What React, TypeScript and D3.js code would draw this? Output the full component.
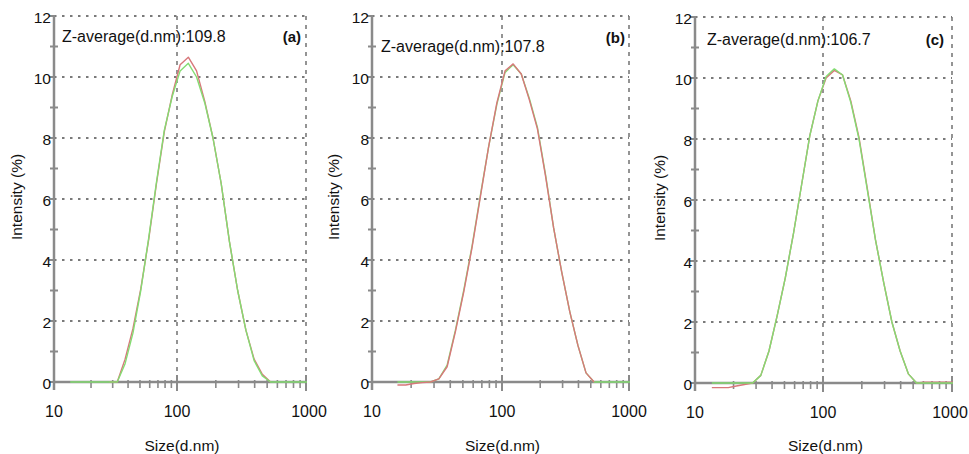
import React from "react";
import * as d3 from "d3";

// size bins (d.nm) of the intensity distribution
const sizes = [
  13.54, 15.69, 18.17, 21.04, 24.36, 28.21, 32.67, 37.84, 43.82, 50.75, 58.77,
  68.06, 78.82, 91.28, 105.7, 122.4, 141.8, 164.2, 190.1, 220.2, 255.0, 295.3,
  342.0, 396.1, 458.7, 531.2, 615.1, 712.4, 825.0, 955.4, 1106,
];

// intensity (%) per bin, null = not drawn
const redA = [
  null, null, null, null, null, 0, 0, 0.75, 1.75, 3.05, 4.65, 6.5, 8.2, 9.4,
  10.4, 10.65, 10.2, 9.2, 8.0, 6.5, 4.6, 3.0, 1.7, 0.75, 0.25, 0, null, null,
  null, null, null,
];
const greenA = [
  0, 0, 0, 0, 0, 0, 0, 0.6, 1.6, 3.0, 4.7, 6.55, 8.25, 9.35, 10.2, 10.45, 10.0,
  9.15, 8.0, 6.5, 4.6, 3.0, 1.7, 0.7, 0.2, 0, 0, 0, 0, 0, 0,
];
const redB = [
  null, -0.1, -0.1, -0.05, -0.02, 0, 0.1, 0.5, 1.65, 2.95, 4.4, 6.05, 7.7,
  9.15, 10.2, 10.43, 10.1, 9.25, 8.3, 6.75, 5.05, 3.6, 2.3, 1.2, 0.3, 0, null,
  null, null, null, null,
];
const greenB = [
  null, 0, 0, 0, 0, 0, 0.1, 0.55, 1.7, 3.0, 4.45, 6.1, 7.7, 9.1, 10.15, 10.4,
  10.1, 9.3, 8.35, 6.8, 5.05, 3.6, 2.3, 1.2, 0.3, 0, 0, 0, 0, 0, 0,
];
const redC = [
  -0.15, -0.15, -0.15, -0.1, -0.05, 0, 0.25, 1.05, 2.2, 3.45, 4.9, 6.5, 8.1,
  9.25, 10.0, 10.25, 10.1, 9.25, 8.05, 6.4, 4.7, 3.3, 2.0, 1.05, 0.3, 0, 0.03,
  0.03, 0.03, 0.03, 0.03,
];
const greenC = [
  0, 0, 0, 0, 0, 0, 0.25, 1.05, 2.2, 3.45, 4.9, 6.5, 8.1, 9.25, 10.05, 10.3,
  10.1, 9.2, 8.0, 6.35, 4.7, 3.3, 2.0, 1.05, 0.3, 0, 0, 0, 0, 0, 0,
];

const panelLabels = ["(a)", "(b)", "(c)"];
const zAverages = ["109.8", "107.8", "106.7"];
const yTicks = [0, 2, 4, 6, 8, 10, 12];
const yMinor = [1, 3, 5, 7, 9, 11];
const xTicks = [10, 100, 1000];
const xMinor = [20, 30, 40, 50, 60, 70, 80, 90, 200, 300, 400, 500, 600, 700, 800, 900];

const FONT = "'Liberation Sans', Arial, Helvetica, sans-serif";
const AXIS = "#8a8a8a";
const GRID = "#7a7a7a";
const RED = "#d8777a";
const GREEN = "#84dc72";

type Layout = {
  left: number;
  mid: number;
  right: number;
  top: number;
  bottom: number;
  zx: number;
  zy: number;
  lx: number;
  ly: number;
  titleX: number;
  lastShift: number;
  red: (number | null)[];
  green: (number | null)[];
  greenOnTop: boolean;
};

const layouts: Layout[] = [
  { left: 54, mid: 177, right: 306, top: 16, bottom: 382, zx: 62, zy: 42, lx: 301, ly: 42, titleX: 22, lastShift: 3, red: redA, green: greenA, greenOnTop: true },
  { left: 372, mid: 502, right: 629, top: 16, bottom: 382, zx: 381, zy: 52, lx: 625, ly: 43, titleX: 339, lastShift: 0, red: redB, green: greenB, greenOnTop: false },
  { left: 695, mid: 823, right: 952, top: 17, bottom: 383, zx: 707, zy: 45, lx: 944, ly: 45, titleX: 665, lastShift: -2, red: redC, green: greenC, greenOnTop: true },
];

const Panel = ({ p, i }: { p: Layout; i: number }) => {
  const x = d3.scaleLog().domain([10, 100, 1000]).range([p.left, p.mid, p.right]);
  const y = d3.scaleLinear().domain([0, 12]).range([p.bottom, p.top]);

  const makePath = (vals: (number | null)[]) => {
    const gen = d3
      .line<number | null>()
      .defined((v) => v !== null)
      .x((_, k) => x(sizes[k]))
      .y((v) => y(v as number));
    return gen(vals) || "";
  };

  const clipId = `clip${i}`;
  const series = p.greenOnTop
    ? [
        { vals: p.red, color: RED },
        { vals: p.green, color: GREEN },
      ]
    : [
        { vals: p.green, color: GREEN },
        { vals: p.red, color: RED },
      ];

  const cy = (p.top + p.bottom) / 2;

  return (
    <g>
      <defs>
        <clipPath id={clipId}>
          <rect x={p.left} y={p.top - 5} width={p.right - p.left + 1} height={p.bottom - p.top + 12} />
        </clipPath>
      </defs>

      {/* horizontal grid */}
      {yTicks
        .filter((t) => t > 0)
        .map((t) => (
          <line
            key={"hg" + t}
            x1={p.left}
            x2={p.right}
            y1={y(t)}
            y2={y(t)}
            stroke={GRID}
            strokeWidth={1.8}
            strokeDasharray="2.5,5.5"
          />
        ))}
      {/* vertical grid */}
      {[100, 1000].map((t) => (
        <line
          key={"vg" + t}
          x1={x(t)}
          x2={x(t)}
          y1={p.top}
          y2={p.bottom}
          stroke={GRID}
          strokeWidth={1.6}
          strokeDasharray="4,5"
        />
      ))}

      {/* y axis */}
      <line x1={p.left} x2={p.left} y1={p.top - 1} y2={p.bottom + 8} stroke={AXIS} strokeWidth={2.5} />
      {yTicks.map((t) => (
        <line key={"yt" + t} x1={p.left - 5} x2={p.left} y1={y(t)} y2={y(t)} stroke={AXIS} strokeWidth={2} />
      ))}
      {yMinor.map((t) => (
        <line key={"ym" + t} x1={p.left - 4} x2={p.left + 4} y1={y(t)} y2={y(t)} stroke={AXIS} strokeWidth={2} />
      ))}
      {yTicks.map((t) => (
        <text
          key={"yl" + t}
          x={p.left - 3}
          y={y(t) + 3}
          textAnchor="end"
          dominantBaseline="middle"
          fontFamily={FONT}
          fontSize={15.5}
          fill="#111"
        >
          {t}
        </text>
      ))}

      {/* x axis */}
      <line x1={p.left} x2={p.right + 1} y1={p.bottom} y2={p.bottom} stroke={AXIS} strokeWidth={2.5} />
      {xMinor.map((t) => (
        <line key={"xm" + t} x1={x(t)} x2={x(t)} y1={p.bottom - 2} y2={p.bottom + 6} stroke={AXIS} strokeWidth={1.6} />
      ))}
      {xTicks
        .filter((t) => t > 10)
        .map((t) => (
          <line key={"xt" + t} x1={x(t)} x2={x(t)} y1={p.bottom - 7} y2={p.bottom + 9} stroke={AXIS} strokeWidth={2} />
        ))}
      {xTicks.map((t) => (
        <text
          key={"xl" + t}
          x={x(t) + (t === 1000 ? p.lastShift : 0)}
          y={p.bottom + 35}
          textAnchor="middle"
          fontFamily={FONT}
          fontSize={16}
          fill="#111"
        >
          {t}
        </text>
      ))}

      {/* curves */}
      <g clipPath={`url(#${clipId})`}>
        {series.map((s, k) => (
          <path key={k} d={makePath(s.vals)} fill="none" stroke={s.color} strokeWidth={1.4} strokeLinejoin="round" />
        ))}
      </g>

      {/* titles */}
      <text
        x={(p.left + p.right) / 2 + 2}
        y={451}
        textAnchor="middle"
        fontFamily={FONT}
        fontSize={15.5}
        fill="#111"
      >
        Size(d.nm)
      </text>
      <text
        transform={`translate(${p.titleX},${cy - 2}) rotate(-90)`}
        textAnchor="middle"
        fontFamily={FONT}
        fontSize={15.5}
        fill="#111"
      >
        Intensity (%)
      </text>
      <text x={p.zx} y={p.zy} fontFamily={FONT} fontSize={16} fill="#111">
        {"Z-average(d.nm):" + zAverages[i]}
      </text>
      <text x={p.lx} y={p.ly} textAnchor="end" fontFamily={FONT} fontSize={15} fontWeight="bold" fill="#111">
        {panelLabels[i]}
      </text>
    </g>
  );
};

const App = () => {
  return (
    <svg
      width={969}
      height={454}
      style={{ position: "absolute", left: 0, top: 0, background: "#fff" }}
    >
      <rect width={969} height={454} fill="#fff" />
      {layouts.map((p, i) => (
        <Panel key={i} p={p} i={i} />
      ))}
    </svg>
  );
};

export default App;
